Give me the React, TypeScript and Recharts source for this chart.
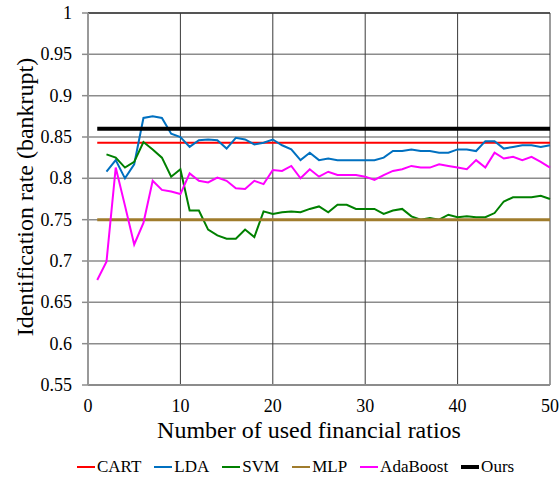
import React from 'react';
import {
	LineChart,
	Line,
	XAxis,
	YAxis,
	CartesianGrid,
	Legend,
	ReferenceLine,
} from 'recharts';

const FONT = 'Liberation Serif';

// number of financial ratios used (x axis)
const ratioCounts = [
	1, 2, 3, 4, 5, 6, 7, 8, 9, 10, 11, 12, 13, 14, 15, 16, 17, 18, 19, 20, 21, 22, 23, 24, 25,
	26, 27, 28, 29, 30, 31, 32, 33, 34, 35, 36, 37, 38, 39, 40, 41, 42, 43, 44, 45, 46, 47, 48,
	49, 50,
];

// flat baselines
const cartRate = 0.843;
const mlpRate = 0.75;
const oursRate = 0.86;

const ldaRates = [
	null, 0.808, 0.822, 0.8, 0.817, 0.873, 0.875, 0.873, 0.854, 0.85, 0.838, 0.846, 0.847, 0.846,
	0.836, 0.849, 0.847, 0.841, 0.843, 0.847, 0.84, 0.835, 0.822, 0.831, 0.822, 0.824, 0.822,
	0.822, 0.822, 0.822, 0.822, 0.825, 0.833, 0.833, 0.835, 0.833, 0.833, 0.831, 0.831, 0.835,
	0.835, 0.833, 0.845, 0.845, 0.836, 0.838, 0.84, 0.84, 0.838, 0.84,
];

const svmRates = [
	null, 0.829, 0.825, 0.813, 0.82, 0.844, 0.835, 0.825, 0.802, 0.811, 0.761, 0.761, 0.738,
	0.731, 0.727, 0.727, 0.738, 0.729, 0.76, 0.757, 0.759, 0.76, 0.759, 0.763, 0.766, 0.759,
	0.768, 0.768, 0.763, 0.763, 0.763, 0.757, 0.761, 0.763, 0.754, 0.75, 0.752, 0.75, 0.756,
	0.753, 0.754, 0.753, 0.753, 0.758, 0.772, 0.777, 0.777, 0.777, 0.779, 0.775,
];

const adaBoostRates = [
	0.677, 0.699, 0.813, 0.767, 0.72, 0.746, 0.797, 0.786, 0.784, 0.781, 0.806, 0.797, 0.795,
	0.801, 0.797, 0.788, 0.787, 0.797, 0.793, 0.81, 0.809, 0.815, 0.8, 0.811, 0.802, 0.808, 0.804,
	0.804, 0.804, 0.802, 0.798, 0.804, 0.809, 0.811, 0.815, 0.813, 0.813, 0.817, 0.815, 0.813,
	0.811, 0.822, 0.813, 0.831, 0.824, 0.826, 0.822, 0.826, 0.82, 0.813,
];

const xTicks = [0, 10, 20, 30, 40, 50];
const yTicks = [0.55, 0.6, 0.65, 0.7, 0.75, 0.8, 0.85, 0.9, 0.95, 1];

const SERIES = [
	{ key: 'CART', color: '#ff0000', width: 2 },
	{ key: 'LDA', color: '#0070c0', width: 2 },
	{ key: 'SVM', color: '#008000', width: 2 },
	{ key: 'MLP', color: '#a07c2c', width: 3 },
	{ key: 'AdaBoost', color: '#ff00ff', width: 2 },
	{ key: 'Ours', color: '#000000', width: 4 },
];

const data = ratioCounts.map((n, i) => ({
	n,
	CART: cartRate,
	LDA: ldaRates[i],
	SVM: svmRates[i],
	MLP: mlpRate,
	AdaBoost: adaBoostRates[i],
	Ours: oursRate,
}));

// custom ticks so the serif font is surely applied
const XTick = (props: any) => (
	<text x={props.x} y={props.y} dy='0.71em' textAnchor='middle' fontSize={18} fontFamily={FONT} fill='#000'>
		{props.payload.value}
	</text>
);

const YTick = (props: any) => (
	<text x={props.x} y={props.y} dy='0.34em' textAnchor='end' fontSize={18} fontFamily={FONT} fill='#000'>
		{props.payload.value}
	</text>
);

const YTitle = (props: any) => {
	const vb = props.viewBox || { x: 0, y: 13, width: 88, height: 372 };
	const cx = vb.x + 25;
	const cy = vb.y + vb.height / 2 - 2;
	return (
		<text
			x={cx}
			y={cy}
			transform={`rotate(-90, ${cx}, ${cy})`}
			textAnchor='middle'
			dominantBaseline='central'
			fontSize={24}
			fontFamily={FONT}
			fill='#000'
		>
			Identification rate (bankrupt)
		</text>
	);
};

const XTitle = (props: any) => {
	const vb = props.viewBox || { x: 88, y: 385, width: 462, height: 71 };
	return (
		<text
			x={vb.x + vb.width / 2 - 10}
			y={vb.y + 53}
			textAnchor='middle'
			fontSize={24}
			fontFamily={FONT}
			fill='#000'
		>
			Number of used financial ratios
		</text>
	);
};

const LegendRow = () => (
	<div
		style={{
			display: 'flex',
			alignItems: 'center',
			height: 22,
			paddingLeft: 77,
			fontFamily: FONT,
			fontSize: 17,
			color: '#000',
		}}
	>
		{SERIES.map((s) => (
			<div key={s.key} style={{ display: 'flex', alignItems: 'center', marginRight: 13 }}>
				<svg width={18} height={10} style={{ marginRight: 2 }}>
					<line x1={0} y1={5} x2={18} y2={5} stroke={s.color} strokeWidth={s.key === 'Ours' ? 4 : 2} />
				</svg>
				<span>{s.key}</span>
			</div>
		))}
	</div>
);

export default function App() {
	return (
		<div
			style={{
				position: 'absolute',
				left: 0,
				top: 0,
				width: 560,
				height: 483,
				background: '#fff',
				fontFamily: FONT,
			}}
		>
			<LineChart width={560} height={483} data={data} margin={{ top: 13, right: 10, bottom: 5, left: 0 }}>
				<CartesianGrid vertical={false} stroke='#8c8c8c' strokeWidth={1.5} />
				<CartesianGrid horizontal={false} stroke='#3a3a3a' strokeWidth={1} />
				<ReferenceLine y={1} stroke='#3a3a3a' strokeWidth={1.5} />
				<XAxis
					dataKey='n'
					type='number'
					domain={[0, 50]}
					ticks={xTicks}
					height={71}
					axisLine={{ stroke: '#8c8c8c', strokeWidth: 2 }}
					tickLine={false}
					tickSize={8}
					tickMargin={6}
					tick={XTick}
					label={{ content: XTitle }}
				/>
				<YAxis
					type='number'
					domain={[0.55, 1]}
					ticks={yTicks}
					width={88}
					axisLine={{ stroke: '#999999', strokeWidth: 2 }}
					tickLine={{ stroke: '#8c8c8c', strokeWidth: 1.5 }}
					tickSize={6}
					tickMargin={10}
					tick={YTick}
					label={{ content: YTitle }}
				/>
				<Legend verticalAlign='bottom' content={LegendRow} />
				{SERIES.map((s) => (
					<Line
						key={s.key}
						type='linear'
						dataKey={s.key}
						stroke={s.color}
						strokeWidth={s.width}
						dot={false}
						activeDot={false}
						isAnimationActive={false}
					/>
				))}
			</LineChart>
		</div>
	);
}
